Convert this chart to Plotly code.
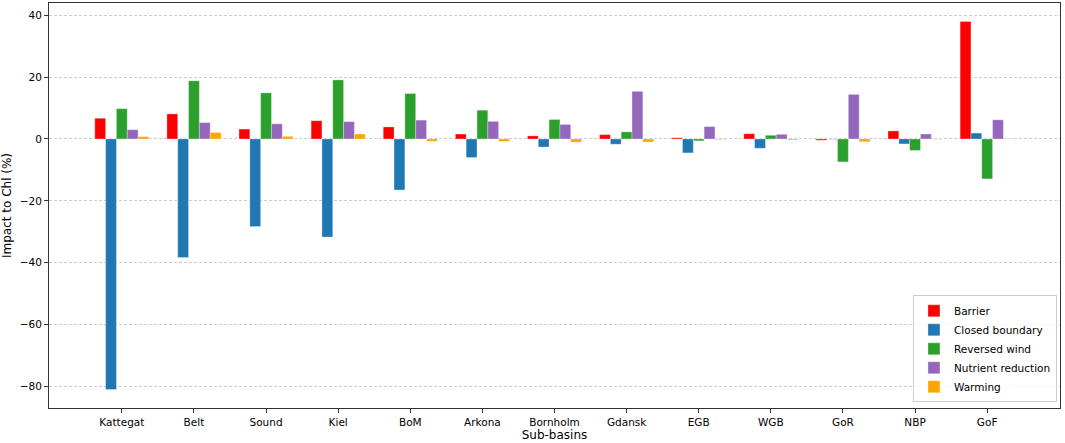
import plotly.graph_objects as go

basins = ["Kattegat", "Belt", "Sound", "Kiel", "BoM", "Arkona", "Bornholm",
          "Gdansk", "EGB", "WGB", "GoR", "NBP", "GoF"]

barrier = [6.7, 8.1, 3.2, 5.9, 3.9, 1.6, 1.0, 1.4, 0.4, 1.7, -0.4, 2.6, 38.0]
closed_boundary = [-81.0, -38.3, -28.3, -31.7, -16.5, -6.0, -2.6, -1.7, -4.5, -3.0, -0.1, -1.6, 1.9]
reversed_wind = [9.8, 18.8, 14.9, 19.1, 14.7, 9.3, 6.3, 2.3, -0.6, 1.2, -7.4, -3.7, -12.9]
nutrient_reduction = [3.0, 5.3, 4.9, 5.6, 6.1, 5.7, 4.7, 15.4, 4.0, 1.5, 14.4, 1.6, 6.2]
warming = [0.75, 2.1, 0.85, 1.6, -0.75, -0.8, -1.0, -1.0, -0.2, -0.3, -0.9, -0.1, 0.1]

series = [
    ("Barrier", barrier, "#ff0000"),
    ("Closed boundary", closed_boundary, "#1f77b4"),
    ("Reversed wind", reversed_wind, "#2ca02c"),
    ("Nutrient reduction", nutrient_reduction, "#9467bd"),
    ("Warming", warming, "#ffa500"),
]

fig = go.Figure()
for name, vals, col in series:
    fig.add_trace(go.Bar(x=list(range(len(basins))), y=vals, name=name,
                         marker=dict(color=col, line=dict(color="rgba(255,255,255,0.5)", width=0.6))))

fig.update_layout(
    width=1065, height=443,
    barmode="group", bargap=0.25, bargroupgap=0,
    plot_bgcolor="white", paper_bgcolor="white",
    margin=dict(l=49, r=5, t=3, b=35),
    font=dict(family="DejaVu Sans", size=10.5, color="black"),
    legend=dict(x=0.997, y=0.014, xanchor="right", yanchor="bottom",
                bgcolor="rgba(255,255,255,0.8)", bordercolor="#cccccc", borderwidth=1,
                font=dict(size=10.5), tracegroupgap=0),
)

fig.update_xaxes(
    range=[-1.01, 13.01], tickmode="array", tickvals=list(range(len(basins))), ticktext=basins,
    showline=True, linecolor="#333333", linewidth=1, mirror=True,
    ticks="outside", ticklen=4, tickcolor="#333333", showgrid=False, zeroline=False,
    title=dict(text="Sub-basins", font=dict(size=12), standoff=4),
)
fig.update_yaxes(
    range=[-86.95, 43.95], tickvals=[-80, -60, -40, -20, 0, 20, 40],
    ticktext=["\u221280", "\u221260", "\u221240", "\u221220", "0", "20", "40"],
    showline=True, linecolor="#333333", linewidth=1, mirror=True,
    ticks="outside", ticklen=4, tickcolor="#333333",
    showgrid=True, gridcolor="#cccccc", griddash="3px,2px", gridwidth=0.8, zeroline=False,
    title=dict(text="Impact to Chl (%)", font=dict(size=12), standoff=6),
)

# drop the browser's default body margin so the figure sits at the page corner
fig.write_html("out.html", config={"displayModeBar": False},
               post_script="document.body.style.margin='0';")
